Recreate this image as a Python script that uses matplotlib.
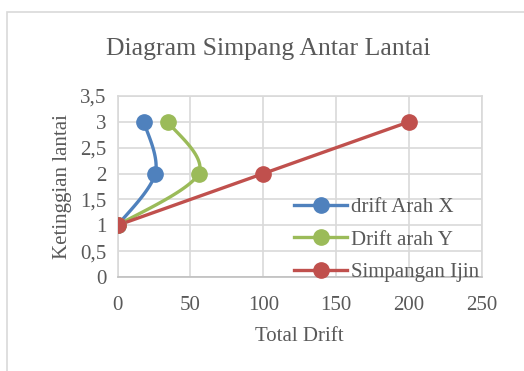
import numpy as np
import matplotlib
matplotlib.use("Agg")
import matplotlib.pyplot as plt
from matplotlib.patches import Rectangle
from matplotlib.ticker import FuncFormatter

# data
lantai = [1, 2, 3]
drift_x = [0, 25.8, 18]
drift_y = [0, 55.6, 34.5]
simpangan_ijin = [0, 100, 200]

series = [
    ("drift Arah X", drift_x, "#4F81BD", True),
    ("Drift arah Y", drift_y, "#9BBB59", True),
    ("Simpangan Ijin", simpangan_ijin, "#C0504D", False),
]

x_ticks = [0, 50, 100, 150, 200, 250]
y_ticks = [0, 0.5, 1, 1.5, 2, 2.5, 3, 3.5]


def smooth(xs, ys, n=40):
    # Excel-like smoothed line (Catmull-Rom via cubic bezier)
    px = [xs[0]] + list(xs) + [xs[-1]]
    py = [ys[0]] + list(ys) + [ys[-1]]
    outx, outy = [], []
    t = np.linspace(0, 1, n)
    for i in range(1, len(px) - 2):
        p0 = np.array([px[i], py[i]])
        p3 = np.array([px[i + 1], py[i + 1]])
        c1 = p0 + (np.array([px[i + 1], py[i + 1]]) - np.array([px[i - 1], py[i - 1]])) / 6
        c2 = p3 - (np.array([px[i + 2], py[i + 2]]) - np.array([px[i], py[i]])) / 6
        b = ((1 - t) ** 3)[:, None] * p0 + (3 * (1 - t) ** 2 * t)[:, None] * c1 \
            + (3 * (1 - t) * t ** 2)[:, None] * c2 + (t ** 3)[:, None] * p3
        outx.extend(b[:, 0])
        outy.extend(b[:, 1])
    return outx, outy


plt.rcParams["font.family"] = ["Liberation Serif", "DejaVu Serif"]
txt = "#595959"
grid = "#D9D9D9"

fig = plt.figure(figsize=(5.24, 3.71), dpi=100)
fig.patches.append(Rectangle((7 / 524, -0.1), 1.2, (371 - 12) / 371 + 0.1,
                             transform=fig.transFigure, fill=False,
                             edgecolor=grid, linewidth=1.2))
ax = fig.add_axes([0.2246, 0.2534, 0.6947, 0.4878])

for nama, xs, warna, halus in series:
    if halus:
        sx, sy = smooth(xs, lantai)
    else:
        sx, sy = xs, lantai
    ax.plot(sx, sy, color=warna, linewidth=2.4, solid_capstyle="round", zorder=3)
    ax.plot(xs, lantai, linestyle="none", marker="o", markersize=11,
            color=warna, zorder=4)
    # handle for legend
    ax.plot([], [], color=warna, linewidth=2.4, marker="o", markersize=11, label=nama)

ax.set_xlim(0, 250)
ax.set_ylim(0, 3.5)
ax.set_xticks(x_ticks)
ax.set_yticks(y_ticks)
ax.yaxis.set_major_formatter(FuncFormatter(lambda v, p: f"{v:g}".replace(".", ",")))
ax.grid(True, color=grid, linewidth=1.2)
ax.set_axisbelow(True)
for s in ax.spines.values():
    s.set_color(grid)
    s.set_linewidth(1.2)
ax.spines["bottom"].set_color("#BFBFBF")
ax.tick_params(length=0, labelsize=15, colors=txt, pad=8)
ax.tick_params(axis="x", pad=14)

fig.text(268 / 524, 1 - 49 / 371, "Diagram Simpang Antar Lantai", fontsize=18.5,
         color=txt, ha="center", va="center")
ax.set_xlabel("Total Drift", fontsize=15, color=txt, labelpad=8)
ax.set_ylabel("Ketinggian lantai", fontsize=15, color=txt, labelpad=6)

ax.legend(loc="lower right", bbox_to_anchor=(1.015, -0.075), frameon=False,
          fontsize=15, labelcolor=txt, handlelength=2.5, handletextpad=0.2,
          labelspacing=0.62, borderaxespad=0)

fig.savefig("out.png", dpi=100)
